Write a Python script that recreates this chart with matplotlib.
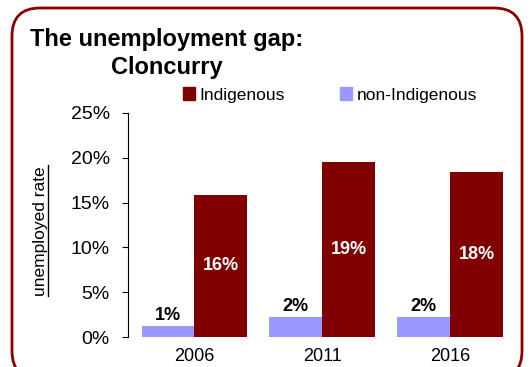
# Unemployment gap chart: Cloncurry
import numpy as np
import matplotlib
matplotlib.use('Agg')
import matplotlib.pyplot as plt
from matplotlib.patches import FancyBboxPatch, Patch
from matplotlib.lines import Line2D
from matplotlib.transforms import IdentityTransform

plt.rcParams['font.family'] = ['Liberation Sans', 'DejaVu Sans']

# data
years = ['2006', '2011', '2016']
indigenous = [15.9, 19.5, 18.4]
non_indigenous = [1.2, 2.2, 2.2]
ind_labels = ['16%', '19%', '18%']
non_labels = ['1%', '2%', '2%']

col_ind = '#800000'
col_non = '#9999FF'

fig = plt.figure(figsize=(5.31, 3.67), dpi=100)
ax = fig.add_axes([128/531, 1-337/367, 386/531, 224/367])

x = np.arange(len(years))
w = 0.414
b_non = ax.bar(x - w/2, non_indigenous, w, color=col_non)
b_ind = ax.bar(x + w/2, indigenous, w, color=col_ind)

for r, lab in zip(b_ind, ind_labels):
    ax.text(r.get_x() + r.get_width()/2, r.get_height()/2, lab,
            ha='center', va='center', color='white', fontsize=13, fontweight='bold')
for r, lab in zip(b_non, non_labels):
    ax.text(r.get_x() + r.get_width()/2, r.get_height() + 0.3, lab,
            ha='center', va='bottom', color='black', fontsize=13, fontweight='bold')

ax.set_xlim(-0.52, 2.5)
ax.set_ylim(0, 25)
ax.set_yticks([0, 5, 10, 15, 20, 25])
ax.set_yticklabels(['0%', '5%', '10%', '15%', '20%', '25%'], fontsize=14)
ax.set_xticks(x)
ax.set_xticklabels(years, fontsize=13)
ax.tick_params(axis='x', length=0, pad=8)
ax.tick_params(axis='y', length=4, width=0.8, direction='out', pad=9)
for s in ['top', 'right', 'bottom']:
    ax.spines[s].set_visible(False)
ax.spines['left'].set_linewidth(0.8)

# legend
handles = [Patch(color=col_ind, label='Indigenous'),
           Patch(color=col_non, label='non-Indigenous')]
fig.legend(handles=handles, ncol=2, loc='center left',
           bbox_to_anchor=(174/531, 1-95/367), frameon=False, fontsize=12.5,
           handlelength=0.7, handleheight=0.7, handletextpad=0.25,
           columnspacing=3.2, borderpad=0)

# title
fig.text(30/531, 1-46/367, 'The unemployment gap:', fontsize=17,
         fontweight='bold', ha='left', va='baseline')
fig.text(111/531, 1-74/367, 'Cloncurry', fontsize=17,
         fontweight='bold', ha='left', va='baseline')

# underlined y label
fig.text(40/531, 1-231/367, 'unemployed rate', rotation=90, fontsize=12.5,
         ha='center', va='center')
fig.add_artist(Line2D([48/531, 48/531], [1-165/367, 1-296/367],
                      transform=fig.transFigure, color='black', lw=1))

# rounded border (pixel coordinates, origin bottom-left)
box = FancyBboxPatch((12, -12), 510, 367 - 8 + 12,
                     boxstyle='round,pad=0,rounding_size=28',
                     transform=IdentityTransform(), fill=False,
                     edgecolor='#8B0000', lw=2, clip_on=False)
fig.add_artist(box)

fig.savefig('out.png', dpi=100)
